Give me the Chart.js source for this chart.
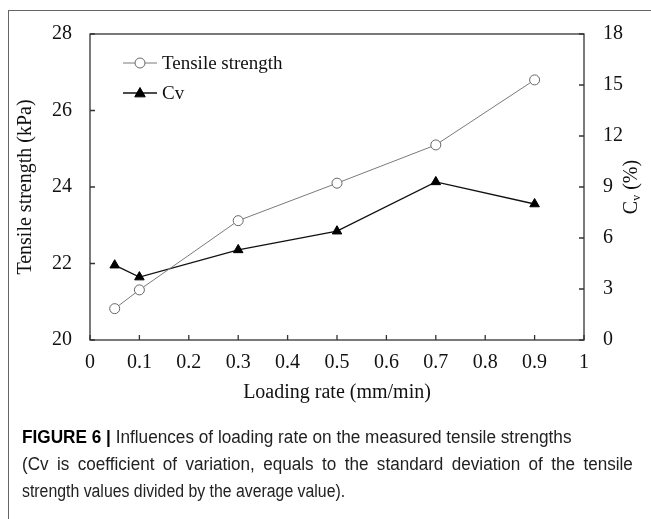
<!DOCTYPE html>
<html>
<head>
<meta charset="utf-8">
<script src="https://cdn.jsdelivr.net/npm/chart.js@4/dist/chart.umd.min.js"></script>
<style>
  html, body { margin: 0; padding: 0; background: #fff; }
  #wrap { position: relative; width: 651px; height: 519px; overflow: hidden; }
  #frame { position: absolute; left: 8px; top: 10px; width: 700px; height: 600px;
           border-left: 1px solid #666; border-top: 1px solid #666; }
  canvas { position: absolute; left: 0; top: 0; }
  #caption { position: absolute; left: 22px; top: 424px;
             font-family: "Liberation Sans", Arial, sans-serif;
             font-size: 18px; line-height: 27px; color: #222; }
  #caption .ln { white-space: nowrap; transform-origin: 0 50%; }
  #caption .l1 { transform: scaleX(0.955); }
  #caption .l2 { width: 643px; transform: scaleX(0.95); text-align: justify; text-align-last: justify; }
  #caption .l3 { transform: scaleX(0.88); }
  #caption b { color: #000; }
</style>
</head>
<body>
<div id="wrap">
  <div id="frame"></div>
  <canvas id="chart" width="651" height="519"></canvas>
  <div id="caption">
    <div class="ln l1"><b>FIGURE 6 |</b> Influences of loading rate on the measured tensile strengths</div>
    <div class="ln l2">(Cv is coefficient of variation, equals to the standard deviation of the tensile</div>
    <div class="ln l3">strength values divided by the average value).</div>
  </div>
</div>
<script>
// ── Données ────────────────────────────────────────────────────────
const loadingRates    = [0.05, 0.1, 0.3, 0.5, 0.7, 0.9];
const tensileStrength = [20.82, 21.31, 23.12, 24.1, 25.1, 26.8];
const cvValues        = [4.4, 3.7, 5.3, 6.4, 9.3, 8.0];

const seriesLabels = ["Tensile strength", "Cv"];
const xTicks  = [0, 0.1, 0.2, 0.3, 0.4, 0.5, 0.6, 0.7, 0.8, 0.9, 1];
const yLeft   = { min: 20, max: 28, step: 2 };
const yRight  = { min: 0, max: 18, step: 3 };

const SERIF = "'Liberation Serif', 'Times New Roman', serif";
const AXIS_COLOR = "#333";

const toPoints = (ys) => loadingRates.map((x, i) => ({ x, y: ys[i] }));

// ── Cadre, graduations internes, titres, légende ───────────────────
const decorPlugin = {
  id: "decor",
  afterDraw(chart) {
    const { ctx, chartArea: a, scales } = chart;
    ctx.save();
    ctx.strokeStyle = AXIS_COLOR;
    ctx.lineWidth = 1.3;
    ctx.strokeRect(a.left, a.top, a.right - a.left, a.bottom - a.top);

    const tick = 5;
    ctx.beginPath();
    for (const t of scales.x.ticks) {
      const px = scales.x.getPixelForValue(t.value);
      ctx.moveTo(px, a.bottom); ctx.lineTo(px, a.bottom - tick);
    }
    for (const t of scales.y.ticks) {
      const py = scales.y.getPixelForValue(t.value);
      ctx.moveTo(a.left, py); ctx.lineTo(a.left + tick, py);
    }
    for (const t of scales.y1.ticks) {
      const py = scales.y1.getPixelForValue(t.value);
      ctx.moveTo(a.right, py); ctx.lineTo(a.right - tick, py);
    }
    ctx.stroke();

    // titres d'axes
    ctx.fillStyle = "#111";
    ctx.font = `20px ${SERIF}`;
    ctx.textAlign = "center";
    ctx.textBaseline = "middle";
    ctx.fillText("Loading rate (mm/min)", (a.left + a.right) / 2, 393);

    const midY = (a.top + a.bottom) / 2;
    ctx.save();
    ctx.translate(26, midY);
    ctx.rotate(-Math.PI / 2);
    ctx.fillText("Tensile strength (kPa)", 0, 0);
    ctx.restore();

    // C_v (%) avec indice
    ctx.save();
    ctx.translate(632, midY);
    ctx.rotate(-Math.PI / 2);
    ctx.textAlign = "left";
    const bigFont = `20px ${SERIF}`, subFont = `12px ${SERIF}`;
    ctx.font = bigFont; const wC = ctx.measureText("C").width;
    const wRest = ctx.measureText(" (%)").width;
    ctx.font = subFont; const wV = ctx.measureText("v").width;
    const x0 = -(wC + wV + wRest) / 2;
    ctx.font = bigFont; ctx.fillText("C", x0, 0);
    ctx.font = subFont; ctx.fillText("v", x0 + wC, 5);
    ctx.font = bigFont; ctx.fillText(" (%)", x0 + wC + wV, 0);
    ctx.restore();

    // légende interne
    const rows = [63, 93];
    chart.data.datasets.forEach((ds, i) => {
      const y = rows[i];
      ctx.strokeStyle = ds.borderColor;
      ctx.lineWidth = ds.borderWidth;
      ctx.beginPath(); ctx.moveTo(123, y); ctx.lineTo(157, y); ctx.stroke();
      ctx.fillStyle = ds.pointBackgroundColor;
      ctx.strokeStyle = ds.pointBorderColor;
      ctx.lineWidth = ds.pointBorderWidth;
      ctx.beginPath();
      if (ds.pointStyle === "circle") {
        ctx.arc(140, y, ds.pointRadius, 0, Math.PI * 2);
      } else {
        const r = ds.pointRadius;
        ctx.moveTo(140, y - r); ctx.lineTo(140 + r * 0.95, y + r * 0.7); ctx.lineTo(140 - r * 0.95, y + r * 0.7);
        ctx.closePath();
      }
      ctx.fill(); ctx.stroke();
      ctx.fillStyle = "#111";
      ctx.font = `19px ${SERIF}`;
      ctx.textAlign = "left";
      ctx.textBaseline = "middle";
      ctx.fillText(ds.label, 162, y + 1);
    });
    ctx.restore();
  },
};

const tickFont = { family: SERIF, size: 20 };

new Chart(document.getElementById("chart"), {
  type: "line",
  data: {
    datasets: [
      {
        label: seriesLabels[0],
        data: toPoints(tensileStrength),
        yAxisID: "y",
        borderColor: "#7a7a7a",
        borderWidth: 1,
        pointStyle: "circle",
        pointRadius: 5,
        pointBorderWidth: 1,
        pointBackgroundColor: "#fff",
        pointBorderColor: "#666",
        tension: 0,
      },
      {
        label: seriesLabels[1],
        data: toPoints(cvValues),
        yAxisID: "y1",
        borderColor: "#111",
        borderWidth: 1.3,
        pointStyle: "triangle",
        pointRadius: 5.5,
        pointBorderWidth: 1,
        pointBackgroundColor: "#000",
        pointBorderColor: "#000",
        tension: 0,
      },
    ],
  },
  options: {
    responsive: false,
    animation: false,
    layout: { padding: { top: 34, right: 0, bottom: 0, left: 0 } },
    plugins: { legend: { display: false }, tooltip: { enabled: false } },
    scales: {
      x: {
        type: "linear",
        min: 0, max: 1,
        afterBuildTicks: (s) => { s.ticks = xTicks.map((v) => ({ value: v })); },
        afterFit: (s) => { s.height = 179; },
        grid: { display: false, drawTicks: false },
        border: { display: false },
        ticks: {
          padding: 11, color: "#111", font: tickFont,
          callback: (v) => String(Math.round(v * 10) / 10),
        },
      },
      y: {
        position: "left",
        min: yLeft.min, max: yLeft.max,
        afterFit: (s) => { s.width = 90; },
        grid: { display: false, drawTicks: false },
        border: { display: false },
        ticks: { stepSize: yLeft.step, padding: 18, color: "#111", font: tickFont },
      },
      y1: {
        position: "right",
        min: yRight.min, max: yRight.max,
        afterFit: (s) => { s.width = 67; },
        grid: { display: false, drawTicks: false },
        border: { display: false },
        ticks: { stepSize: yRight.step, padding: 19, color: "#111", font: tickFont },
      },
    },
  },
  plugins: [decorPlugin],
});
</script>
</body>
</html>
